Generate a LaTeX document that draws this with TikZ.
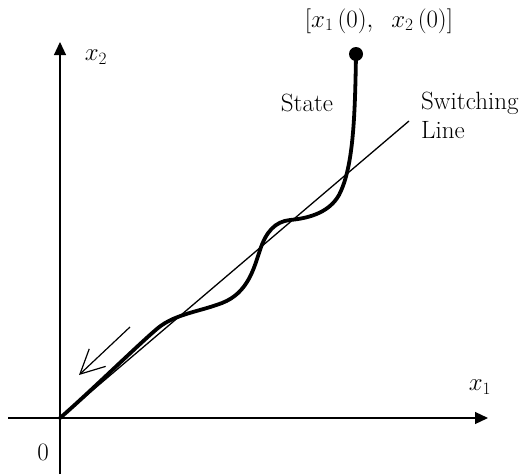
\documentclass[tikz,border=0pt]{standalone}
\usetikzlibrary{arrows.meta}
\begin{document}
\begin{tikzpicture}[x=1pt,y=-1pt,
  axis/.style={line width=1.2pt,-{Triangle[length=13pt,width=12pt]}},
  thinline/.style={line width=1.3pt},
  statecurve/.style={line width=3.8pt,line cap=round,line join=round},
  lbl/.style={inner sep=0pt,font=\fontsize{25}{29}\selectfont},
  dirarrow/.style={line width=1.2pt,-{Straight Barb[length=24pt,width=24pt]}}]
\useasboundingbox (0,0) rectangle (522,474);
\coordinate (O) at (60,418);
\coordinate (ybot) at (60,474);
\coordinate (ytop) at (60,42);
\coordinate (xleft) at (8,418);
\coordinate (xright) at (488,418);
\coordinate (swend) at (409,121);
\coordinate (s0) at (356,54);
\coordinate (a1) at (130,327);
\coordinate (a2) at (79,375);
\draw[axis] (ybot) -- (ytop);
\draw[axis] (xleft) -- (xright);
\draw[thinline] (O) -- (swend);
\draw[statecurve] (s0)
  .. controls (355,120) and (353,168) .. (339,195)
  .. controls (330,211) and (312,218) .. (290,220)
  .. controls (275,221.5) and (266,232) .. (260,250)
  .. controls (254,268) and (248,293) .. (222,303)
  .. controls (200,311.5) and (175,314) .. (158,328)
  .. controls (141,342) and (90,392) .. (O);
\fill (s0) circle (7);
\draw[dirarrow] (a1) -- (a2);
\node[lbl] (init) at (379,21) {$[x_1\,(0),\;\; x_2\,(0)]$};
\node[lbl] (state) at (307,103) {State};
\node[lbl,anchor=west,align=left] (sw) at (421,115) {Switching\\Line};
\node[lbl] (x2) at (96,57) {$x_2$};
\node[lbl] (x1) at (480,387) {$x_1$};
\node[lbl] (zero) at (43,452) {0};
\end{tikzpicture}
\end{document}
